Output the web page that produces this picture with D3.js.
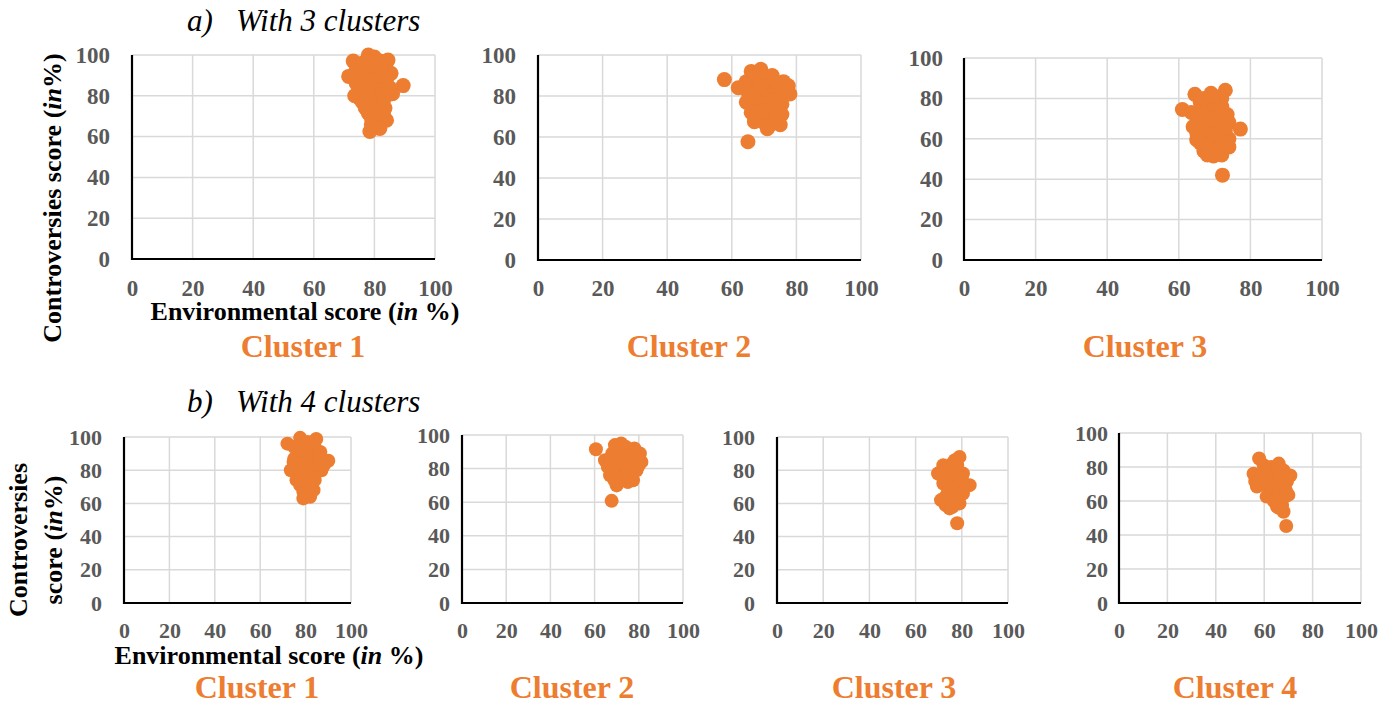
<!DOCTYPE html>
<html>
<head>
<meta charset="utf-8">
<script src="https://cdn.jsdelivr.net/npm/d3@7"></script>
<style>
  html, body { margin: 0; padding: 0; background: #fff; }
  svg { display: block; }
  text { font-family: "Liberation Serif", "Times New Roman", serif; }
</style>
</head>
<body>
<svg id="chart" width="1390" height="706"></svg>
<script>
// Environmental score (x) vs Controversies score (y), in %, per cluster.
const tickValues = [0, 20, 40, 60, 80, 100];

// a) three-cluster solution
const a1 = [[73,97],[74,93],[71.5,89.5],[78,100],[80,99],[82,97],[84.5,97.5],[85.5,91],[89.5,85],[86,81],[83,85],[80,88],[77,92],[76,87],[79,83],[75,83],[73.5,80],[76,77],[78,79],[81,80],[83.5,74],[80,75],[78,71.5],[82,70],[84,68],[80,67],[81.8,64],[78.5,62.5],[79,66],[77,74],[81,92],[83,89],[79,95],[76,96],[82,77],[80,84],[84,80],
  [75,90],[78,88],[81,86],[84,88],[78,97],[82,94],[80,95],[77,84],[82,83],[85,84],[75,79],[79,77],[81,73],[83,71],[79,69],[77,81],[83,78],[74,86]];
const a2 = [[57.7,88],[62,84],[64.5,87],[66,92],[69,93],[72.5,90],[76,87],[77.5,85],[78,81],[74,84],[71,87],[68,88],[67,83],[70,81],[73,79],[75.5,76],[75.5,71],[75,66],[71,64],[67,67.5],[66,72],[64.5,77],[68,75],[72,72],[70,76],[73,68],[69,70],[66,80],[72,83],[74,74],[65,57.7],[76,80],[68,79],
  [67,90],[70,89],[73,87],[75,83],[77,83],[69,85],[72,80],[74,78],[71,78],[69,77],[67,70],[70,67],[72,66],[74,70],[68,72],[65,82],[70,73],[73,75]];
const a3 = [[61,74.5],[63.5,73],[64.5,82],[66,78],[69,82.5],[71,80],[73,84],[72,76],[73.5,72],[74,68],[77.2,64.8],[72,64],[74,60],[74,56],[72,52],[69.7,51.5],[67,54],[65,59.5],[64,66],[66,70],[68,75],[70,72],[68,68],[70,65],[66,63],[68,60],[70,58],[72,60],[69,55],[71,68],[67,56],[72.2,42],
  [66,74],[68,78],[70,78],[72,80],[70,75],[72,72],[67,72],[65,68],[67,65],[69,62],[71,62],[73,64],[70,60],[66,58],[68,57],[71,55],[73,58],[69,70],[71,71],[67,80],[70,81],[65,63],[72,56],[68,52],[73,66]];

// b) four-cluster solution
const b1 = [[72,96],[75,94],[77.6,99.5],[81,97],[84.7,98.8],[86.5,91],[90,85.7],[87,80],[84,85],[82,90],[79,92],[77,88],[74.7,85],[73.5,80],[76,82],[79,80],[82,82],[80,86],[76,74],[80,76],[84,74],[77.6,71],[81,70],[83.5,68],[79,67],[79,63],[82,64],[80,72],
  [78,95],[80,93],[84,94],[83,92],[85,88],[88,83],[78,86],[82,87],[80,90],[75,87],[76,84],[79,84],[83,80],[86,84],[78,77],[82,73],[80,78],[78,74],[81,67],[80,65]];
const b2 = [[60.6,91.5],[64.7,85],[66,81],[67,76],[70,70],[72,73],[75,72],[77.4,73],[79,79],[81.2,84],[80.5,89],[78,92],[75.9,91],[72,95],[69.2,94],[68,89],[71,86],[74,85],[77,85],[73,80],[70,81],[76,78],[72,77],[67.7,60.8],
  [70,92],[74,93],[77,89],[79,86],[72,89],[69,86],[67,84],[70,78],[73,83],[75,81],[78,82],[76,75],[73,75],[71,74],[69,73],[68,79],[74,88],[80,82]];
const b3 = [[79,88],[76,84],[72,83],[69.7,78],[73,78],[77,79],[80.5,78],[72,72],[76,73],[79,72],[83.4,71],[80.5,66],[77,66],[74,67],[71,62],[74.7,57],[77,60],[79,60],[75,63],[78,48],
  [74,82],[77,86],[78,83],[75,80],[78,76],[74,75],[72,75],[77,70],[81,70],[79,68],[75,69],[73,64],[76,62],[78,63],[73,59],[76,58],[71,79],[80,75]];
const b4 = [[57.9,85],[55.6,76],[56.3,71.5],[59.8,81],[63,80],[66,82],[68,78],[70.8,75],[69.4,71.5],[70,63.6],[67,67],[64,70],[61,74],[58,73],[57,68.5],[61,62.6],[64,63],[65.3,56.7],[67.4,57.7],[68,53.7],[66,61],[63,76],[66,74],[69.1,45.3],
  [61,78],[64,78],[66,79],[68,75],[69,73],[65,76],[62,72],[60,70],[59,76],[63,73],[66,71],[68,69],[65,68],[62,67],[63,65],[66,64],[67,62],[69,66],[64,60],[67,59],[66,56],[69,63]];

const clusterLabels = ["Cluster 1", "Cluster 2", "Cluster 3", "Cluster 4"];
const xTitle = ["Environmental score (", "in", " %)"];
const yTitle = ["Controversies score (", "in", "%)"];

const ORANGE = "#ED7D31";
const GRID = "#d9d9d9";
const TICK = "#595959";

const svg = d3.select("#chart");

// Panel frames: plot rectangle, tick font, label positions.
const panels = [
  { data: a1, label: 0, l: 132, r: 435, t: 55, b: 259, r0: 7.5, fs: 23, pad: 22, xLabY: 288, cx: 303, cy: 357 },
  { data: a2, label: 1, l: 538, r: 861, t: 55, b: 260, r0: 7.5, fs: 23, pad: 22, xLabY: 288, cx: 689, cy: 357 },
  { data: a3, label: 2, l: 964, r: 1322, t: 58, b: 260, r0: 7.5, fs: 23, pad: 21, xLabY: 288, cx: 1145, cy: 357 },
  { data: b1, label: 0, l: 124, r: 351, t: 437, b: 603, r0: 7, fs: 22, pad: 22, xLabY: 631, cx: 257, cy: 698 },
  { data: b2, label: 1, l: 462, r: 683, t: 435, b: 603, r0: 7, fs: 22, pad: 12, xLabY: 631, cx: 572, cy: 698 },
  { data: b3, label: 2, l: 777, r: 1008, t: 437, b: 603, r0: 7, fs: 22, pad: 22, xLabY: 631, cx: 894, cy: 698 },
  { data: b4, label: 3, l: 1119, r: 1361, t: 433, b: 603, r0: 7, fs: 22, pad: 11, xLabY: 631, cx: 1235, cy: 698 }
];

panels.forEach(p => {
  const x = d3.scaleLinear().domain([0, 100]).range([p.l, p.r]);
  const y = d3.scaleLinear().domain([0, 100]).range([p.b, p.t]);
  const g = svg.append("g");

  // gridlines
  g.append("g").selectAll("line").data(tickValues).join("line")
    .attr("x1", d => x(d)).attr("x2", d => x(d))
    .attr("y1", p.t).attr("y2", p.b)
    .attr("stroke", GRID).attr("stroke-width", 1.5);
  g.append("g").selectAll("line").data(tickValues).join("line")
    .attr("x1", p.l).attr("x2", p.r)
    .attr("y1", d => y(d)).attr("y2", d => y(d))
    .attr("stroke", GRID).attr("stroke-width", 1.5);

  // y tick labels
  const ya = g.append("g").attr("transform", `translate(${p.l},0)`)
    .call(d3.axisLeft(y).tickValues(tickValues).tickSize(0).tickPadding(p.pad));
  ya.select(".domain").remove();
  ya.selectAll("text")
    .attr("font-size", p.fs).attr("font-weight", "bold").attr("fill", TICK);

  // x tick labels
  const xa = g.append("g").attr("transform", `translate(0,${p.xLabY})`)
    .call(d3.axisBottom(x).tickValues(tickValues).tickSize(0).tickPadding(0));
  xa.select(".domain").remove();
  xa.selectAll("text")
    .attr("dy", "0.33em").attr("y", 0)
    .attr("font-size", p.fs).attr("font-weight", "bold").attr("fill", TICK);

  // axis lines (left and bottom)
  g.append("line").attr("x1", p.l).attr("x2", p.l).attr("y1", p.t).attr("y2", p.b + 1)
    .attr("stroke", "#000").attr("stroke-width", 2.2);
  g.append("line").attr("x1", p.l - 1).attr("x2", p.r).attr("y1", p.b).attr("y2", p.b)
    .attr("stroke", "#000").attr("stroke-width", 2.2);

  // points
  g.append("g").selectAll("circle").data(p.data).join("circle")
    .attr("cx", d => x(d[0])).attr("cy", d => y(d[1]))
    .attr("r", p.r0).attr("fill", ORANGE);

  // cluster label
  svg.append("text").attr("x", p.cx).attr("y", p.cy)
    .attr("text-anchor", "middle").attr("font-size", 32).attr("font-weight", "bold")
    .attr("fill", ORANGE).text(clusterLabels[p.label]);
});

// Section headings
function heading(letter, text, yBase) {
  svg.append("text").attr("x", 187).attr("y", yBase)
    .attr("font-size", 31).attr("font-style", "italic").attr("fill", "#000").text(letter);
  svg.append("text").attr("x", 236).attr("y", yBase)
    .attr("font-size", 31).attr("font-style", "italic").attr("fill", "#000").text(text);
}
heading("a)", "With 3 clusters", 31);
heading("b)", "With 4 clusters", 412);

// Axis titles with italic "in"
function mixedTitle(parent, parts) {
  parts.forEach((s, i) => {
    parent.append("tspan").attr("font-style", i === 1 ? "italic" : "normal").text(s);
  });
}
const xt1 = svg.append("text").attr("x", 305).attr("y", 320).attr("text-anchor", "middle")
  .attr("font-size", 26).attr("font-weight", "bold").attr("fill", "#000");
mixedTitle(xt1, xTitle);
const xt2 = svg.append("text").attr("x", 269).attr("y", 664).attr("text-anchor", "middle")
  .attr("font-size", 26).attr("font-weight", "bold").attr("fill", "#000");
mixedTitle(xt2, xTitle);

const yt1 = svg.append("text").attr("transform", "translate(61,198) rotate(-90)")
  .attr("text-anchor", "middle").attr("font-size", 26).attr("font-weight", "bold").attr("fill", "#000");
mixedTitle(yt1, yTitle);

svg.append("text").attr("transform", "translate(27,540) rotate(-90)")
  .attr("text-anchor", "middle").attr("font-size", 26).attr("font-weight", "bold").attr("fill", "#000")
  .text("Controversies");
const yt3 = svg.append("text").attr("transform", "translate(62,540) rotate(-90)")
  .attr("text-anchor", "middle").attr("font-size", 26).attr("font-weight", "bold").attr("fill", "#000");
mixedTitle(yt3, ["score (", "in", "%)"]);
</script>
</body>
</html>
